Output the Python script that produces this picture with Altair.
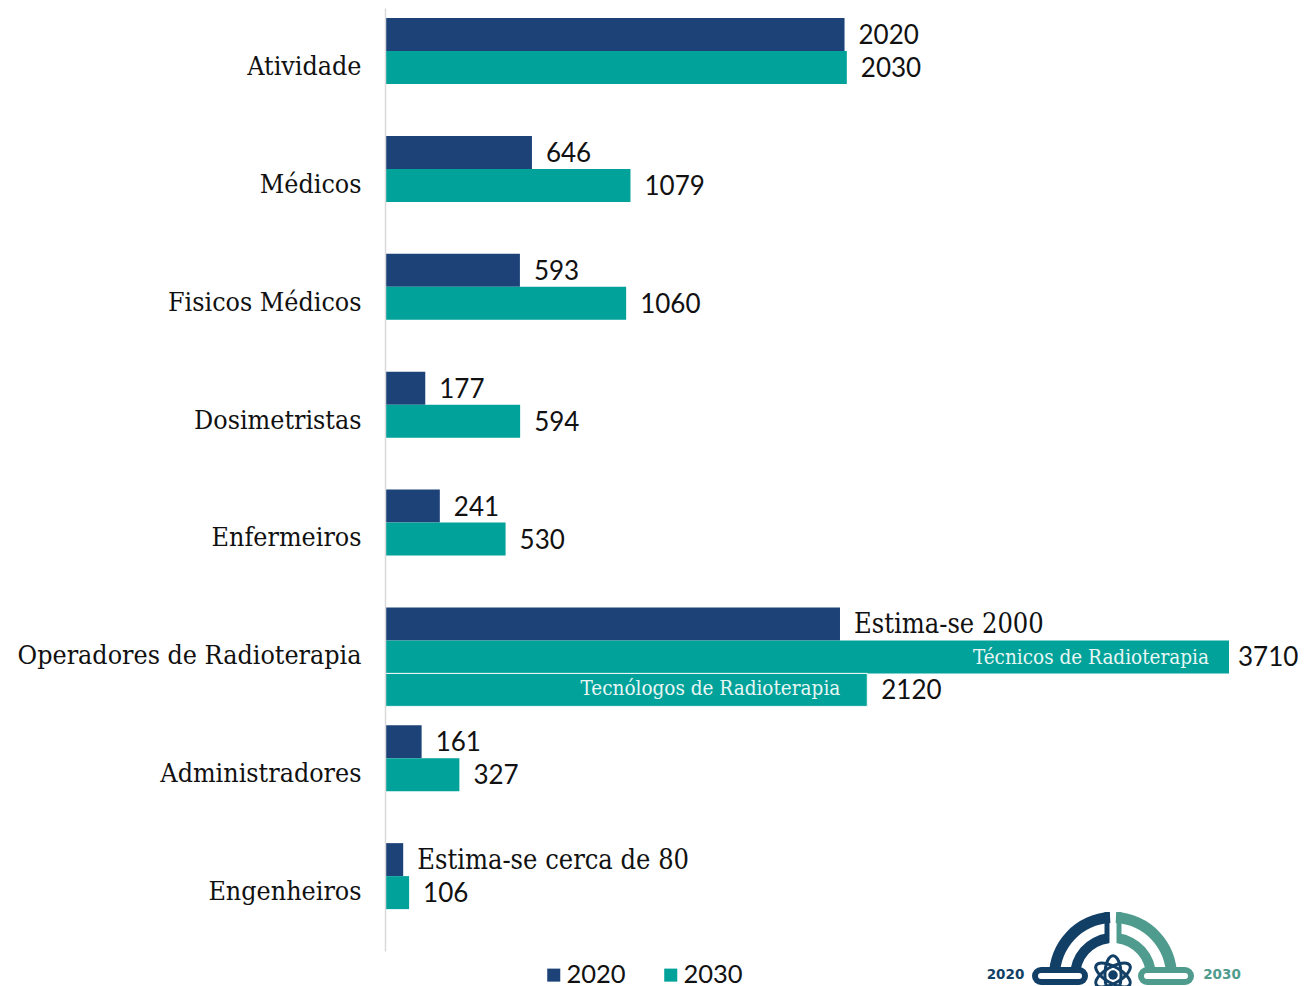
import math
import altair as alt
import pandas as pd

categories = ["Atividade", "Médicos", "Fisicos Médicos", "Dosimetristas", "Enfermeiros",
              "Operadores de Radioterapia", "Administradores", "Engenheiros"]
values_2020 = [2020, 646, 593, 177, 241, 2000, 161, 80]
values_2030 = [2030, 1079, 1060, 594, 530, 3710, 327, 106]
labels_2020 = ["2020", "646", "593", "177", "241", "Estima-se 2000", "161", "Estima-se cerca de 80"]
labels_2030 = ["2030", "1079", "1060", "594", "530", "3710", "327", "106"]
extra_category = "Operadores de Radioterapia"
extra_value = 2120
extra_label = "2120"
inner_labels = ["Técnicos de Radioterapia", "Tecnólogos de Radioterapia"]

NAVY, TEAL = "#1c4278", "#00a29a"
LOGO_NAVY, LOGO_TEAL = "#123f66", "#4f9c8e"
SERIF = "DejaVu Serif Condensed"
SANS = "Lato"

rows = []
for c, a, b, la, lb in zip(categories, values_2020, values_2030, labels_2020, labels_2030):
    rows.append(dict(cat=c, series="2020", slot="2020", value=a, label=la))
    rows.append(dict(cat=c, series="2030", slot="2030", value=b, label=lb))
rows.append(dict(cat=extra_category, series="2030", slot="extra", value=extra_value, label=extra_label))
df = pd.DataFrame(rows)

x = alt.X("value:Q", axis=None, scale=alt.Scale(domain=[0, 3710], nice=False))
y = alt.Y("cat:N", sort=categories, title=None,
          scale=alt.Scale(domain=categories, paddingInner=0, paddingOuter=0),
          axis=alt.Axis(ticks=False, labelFont=SERIF, labelFontSize=26.6, labelColor="#111111",
                        labelPadding=24, labelLimit=400, domainColor="#d9d9d9", domainWidth=1.5,
                        grid=False, zindex=1))
yo = alt.YOffset("slot:N", scale=alt.Scale(domain=["2020", "2030", "extra"], range=[10, 109]))
color = alt.Color("series:N",
                  scale=alt.Scale(domain=["2020", "2030"], range=[NAVY, TEAL]),
                  legend=alt.Legend(orient="none", legendX=156, legendY=954, direction="horizontal",
                                    title=None, symbolType="square", symbolSize=170, symbolStrokeWidth=0,
                                    labelFont=SANS, labelFontSize=25.5, labelColor="#111111",
                                    columnPadding=32, labelOffset=0))

base = alt.Chart(df)
bars = base.mark_bar(size=33, opacity=1).encode(x=x, y=y, yOffset=yo, color=color)
extra_bar = base.transform_filter("datum.slot == 'extra'").mark_bar(
    size=33, stroke="white", strokeWidth=1, color=TEAL).encode(x=x, y=y, yOffset=yo)

num_text = base.transform_filter("!test(/Estima/, datum.label) && datum.value != 3710").mark_text(
    align="left", baseline="middle", dx=14, dy=1.5, font=SANS, fontSize=26, color="#111111"
).encode(x=x, y=y, yOffset=yo, text="label:N")
edge_text = base.transform_filter("datum.value == 3710").mark_text(
    align="left", baseline="middle", dx=9, dy=1, font=SANS, fontSize=26, color="#111111"
).encode(x=x, y=y, yOffset=yo, text="label:N")
est_text = base.transform_filter("test(/Estima/, datum.label)").mark_text(
    align="left", baseline="middle", dx=14, dy=1, font=SERIF, fontSize=27, color="#111111"
).encode(x=x, y=y, yOffset=yo, text="label:N")

inner_df = pd.DataFrame([
    dict(cat=extra_category, slot="2030", value=3710, label=inner_labels[0]),
    dict(cat=extra_category, slot="extra", value=extra_value, label=inner_labels[1]),
])
inner1 = alt.Chart(inner_df[inner_df.slot == "2030"]).mark_text(
    align="right", baseline="middle", dx=-20, dy=1, font=SERIF, fontSize=20.5, color="#e8f6f4"
).encode(x=x, y=y, yOffset=yo, text="label:N")
inner2 = alt.Chart(inner_df[inner_df.slot == "extra"]).mark_text(
    align="right", baseline="middle", dx=-27, dy=-1, font=SERIF, fontSize=20.5, color="#e8f6f4"
).encode(x=x, y=y, yOffset=yo, text="label:N")

# logo, bottom right
one = alt.Data(values=[{"k": 1}])
CX, CY = 728, 968


def arc(r1, r2, t1, t2, col):
    return alt.Chart(one).mark_arc(color=col).encode(
        x=alt.value(CX), y=alt.value(CY),
        radius=alt.value(r2), radius2=alt.value(r1),
        theta=alt.value(t1), theta2=alt.value(t2))


def rule(x1, x2, y1, y2, col, w, cap="butt"):
    return alt.Chart(one).mark_rule(color=col, strokeWidth=w, strokeCap=cap).encode(
        x=alt.value(x1), x2=alt.value(x2), y=alt.value(y1), y2=alt.value(y2))


def orbit(angle):
    return alt.Chart(one).mark_point(
        shape="M -1 0 A 1 0.42 0 1 1 1 0 A 1 0.42 0 1 1 -1 0 Z",
        filled=False, color=LOGO_NAVY, strokeWidth=3, size=1500, angle=angle, opacity=1
    ).encode(x=alt.value(CX), y=alt.value(CY - 1))


logo = [
    arc(53, 64, 1.5 * math.pi, 2 * math.pi - 0.05, LOGO_NAVY),
    arc(33, 43, 1.5 * math.pi, 2 * math.pi - 0.12, LOGO_NAVY),
    arc(53, 64, 0.05, 0.5 * math.pi, LOGO_TEAL),
    arc(33, 43, 0.12, 0.5 * math.pi, LOGO_TEAL),
    rule(CX - 6, CX - 6, CY - 64, CY - 33, LOGO_NAVY, 5),
    rule(CX + 6, CX + 6, CY - 64, CY - 33, LOGO_TEAL, 5),
    rule(CX - 72, CX - 34, CY, CY, LOGO_NAVY, 18, "round"),
    rule(CX + 34, CX + 72, CY, CY, LOGO_TEAL, 18, "round"),
    rule(CX - 72, CX - 34, CY, CY, "white", 6, "round"),
    rule(CX + 34, CX + 72, CY, CY, "white", 6, "round"),
    orbit(30), orbit(90), orbit(150),
    alt.Chart(one).mark_point(filled=True, color=LOGO_NAVY, size=90, opacity=1).encode(
        x=alt.value(CX), y=alt.value(CY - 1)),
]

logo_text = [
    alt.Chart(one).mark_text(text=t, font="DejaVu Sans", fontWeight="bold", fontSize=13.5, color=c,
                             align="center", baseline="middle").encode(x=alt.value(px), y=alt.value(CY - 1))
    for t, c, px in [("2020", LOGO_NAVY, 620.5), ("2030", LOGO_TEAL, 837)]
]

chart = alt.layer(
    bars, extra_bar, num_text, edge_text, est_text, inner1, inner2, *logo, *logo_text
).properties(
    width=844, height=943,
    autosize=alt.AutoSizeParams(type="none"),
    padding={"left": 377, "top": 0, "right": 69, "bottom": 40},
).configure_view(stroke=None)

chart.save("out.html", embed_options={"renderer": "svg", "actions": False})
